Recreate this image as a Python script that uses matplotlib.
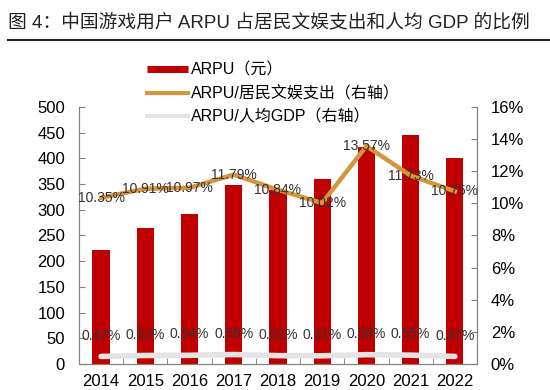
import matplotlib.pyplot as plt
import numpy as np
from matplotlib.lines import Line2D
from matplotlib.ticker import FuncFormatter, MultipleLocator

plt.rcParams['font.family'] = ['Liberation Sans', 'Noto Sans CJK SC']

years = ['2014', '2015', '2016', '2017', '2018', '2019', '2020', '2021', '2022']
arpu = [222, 264, 292, 349, 338, 360, 422, 446, 401]
pct_ent = [10.35, 10.91, 10.97, 11.79, 10.84, 10.02, 13.57, 11.73, 10.75]
pct_gdp = [0.47, 0.53, 0.54, 0.59, 0.52, 0.51, 0.58, 0.55, 0.47]

red = '#C00000'
orange = '#D4963C'
grey = '#E3E3E3'
spine_c = '#808080'

fig = plt.figure(figsize=(5.5, 3.9), dpi=100)
ax = fig.add_axes([0.1436, 0.0667, 0.7236, 0.659])
ax2 = ax.twinx()

x = np.arange(len(years))
ax.bar(x, arpu, width=0.39, color=red, zorder=2)
ax.set_xlim(-0.5, len(years) - 0.5)
ax.set_ylim(0, 500)
ax.yaxis.set_major_locator(MultipleLocator(50))

ax2.plot(x, pct_ent, color=orange, lw=3.2, zorder=3, solid_joinstyle='round')
ax2.plot(x, pct_gdp, color=grey, lw=4, solid_capstyle='round', zorder=3)
ax2.set_ylim(0, 16)
ax2.yaxis.set_major_locator(MultipleLocator(2))
ax2.yaxis.set_major_formatter(FuncFormatter(lambda v, p: f'{v:.0f}%'))

for xi, v in zip(x, pct_ent):
    ax2.text(xi, v, f'{v:.2f}%', ha='center', va='center', fontsize=10,
             color='#333333', zorder=5)
for xi, v in zip(x, pct_gdp):
    ax2.annotate(f'{v:.2f}%', (xi, v), xytext=(0, 15), textcoords='offset points',
                 ha='center', va='center', fontsize=10, color='#333333', zorder=5)

ax.set_xticks(x)
ax.set_xticklabels(years)
ax.set_xticks(np.arange(0.5, len(years) - 0.5, 1), minor=True)
ax.tick_params(axis='x', which='major', length=0, pad=7, labelsize=12)
ax.tick_params(axis='x', which='minor', direction='in', length=4, color=spine_c)
ax.tick_params(axis='y', direction='in', length=4, color=spine_c, pad=10, labelsize=12)
ax2.tick_params(axis='y', direction='in', length=4, color=spine_c, pad=10, labelsize=12)

for a in (ax, ax2):
    a.spines['top'].set_visible(False)
    for s in ('left', 'right', 'bottom'):
        a.spines[s].set_color(spine_c)
ax.set_zorder(ax2.get_zorder() - 1)
ax2.patch.set_visible(False)

handles = [
    Line2D([], [], color=red, lw=5, solid_capstyle='butt'),
    Line2D([], [], color=orange, lw=3),
    Line2D([], [], color=grey, lw=3),
]
labels = ['ARPU（元）', 'ARPU/居民文娱支出（右轴）', 'ARPU/人均GDP（右轴）']
fig.legend(handles, labels, loc='upper left', bbox_to_anchor=(0.267, 0.84),
           frameon=False, fontsize=11.5, handlelength=2.6, handletextpad=0.15,
           labelspacing=0.52, borderpad=0, borderaxespad=0)

fig.text(0.015, 0.943, '图 4：中国游戏用户 ARPU 占居民文娱支出和人均 GDP 的比例',
         fontsize=13.5, color='#222222', va='center', ha='left')
fig.add_artist(Line2D([0.015, 1.0], [0.898, 0.898], color='#222222', lw=1.5,
                      transform=fig.transFigure))

fig.savefig('out.png', dpi=100)
